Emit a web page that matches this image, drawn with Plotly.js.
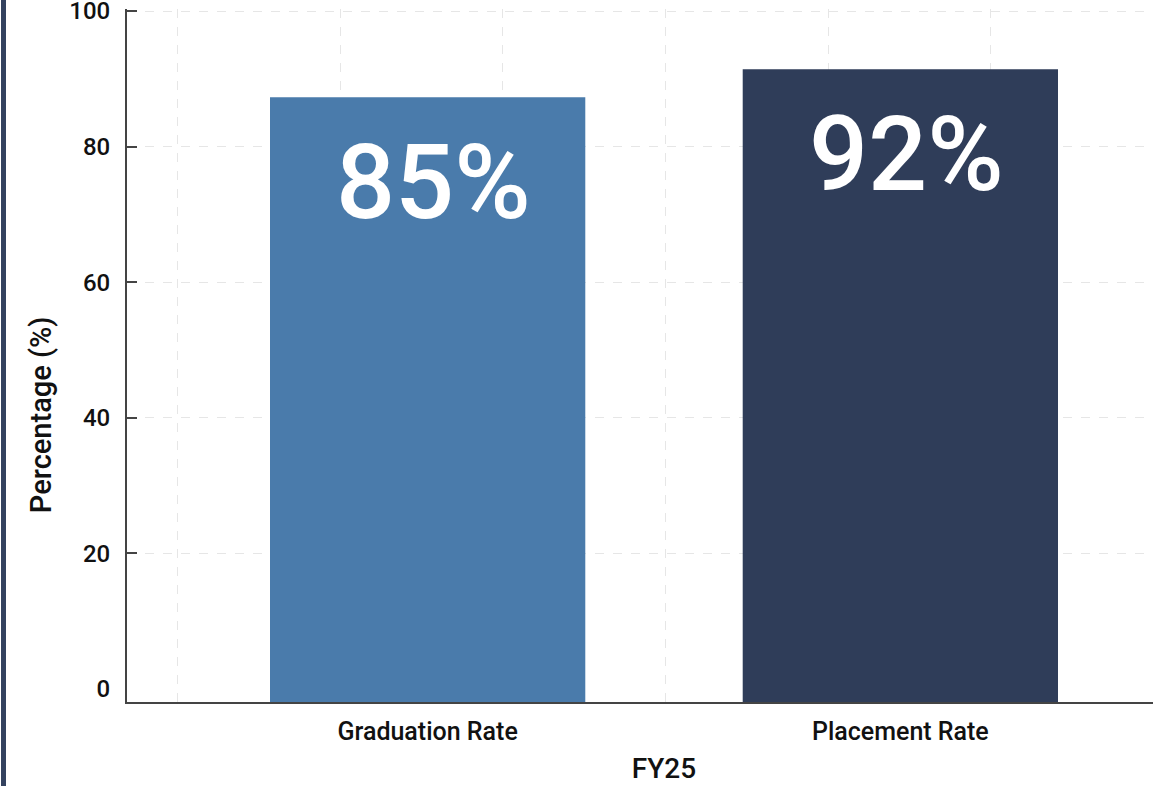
<!DOCTYPE html>
<html>
<head>
<meta charset="utf-8">
<script src="https://cdn.plot.ly/plotly-3.0.1.min.js"></script>
<style>
  html, body { margin: 0; padding: 0; background: #ffffff; overflow: hidden; width: 1153px; height: 786px; }
  #chart { position: absolute; left: 0; top: 0; }
  #edge { position: absolute; left: 1px; top: 0; width: 5px; height: 786px; background: #34425f; z-index: 10; }
</style>
</head>
<body>
<div id="chart"></div>
<div id="edge"></div>
<script>
// ---- data ----
const categories = ["Graduation Rate", "Placement Rate"];
const barValues = [87.3, 91.4];          // bar heights as drawn
const barLabels = ["85%", "92%"];        // labels printed inside the bars
const barColors = ["#4a7bab", "#2f3d59"];
const yTicks = [0, 20, 40, 60, 80, 100];
const yGridTicks = [20, 40, 60, 80, 100];
const xTitle = "FY25";
const yTitle = "Percentage (%)";

const Y_MIN = -1.92, Y_MAX = 100.3;
const FONT = "Roboto, 'Noto Sans', Arial, sans-serif";

const traces = [
  {
    type: "bar",
    x: categories,
    y: barValues.map(v => v - Y_MIN),
    base: Y_MIN,
    width: 0.667,
    marker: { color: barColors, line: { width: 0 } },
    hoverinfo: "x+y",
    showlegend: false
  },
  {
    type: "scatter", mode: "markers",
    x: [], y: [], xaxis: "x2", yaxis: "y2",
    showlegend: false, hoverinfo: "skip"
  }
];

const annotations = categories.map((c, i) => ({
  x: c, y: barValues[i], xref: "x", yref: "y",
  text: barLabels[i], showarrow: false,
  yanchor: "top", xanchor: "center", yshift: -23, xshift: 6,
  font: { family: FONT, size: 104, color: "#ffffff", weight: 500 }
}));
annotations.push({
  x: -0.0801, y: 0.4153, xref: "paper", yref: "paper",
  text: yTitle, showarrow: false, textangle: -90,
  xanchor: "center", yanchor: "middle",
  font: { family: FONT, size: 29, color: "#111111", weight: 500 }
});

const layout = {
  width: 1201, height: 786,
  margin: { l: 127, r: 0, t: 9, b: 84 },
  paper_bgcolor: "#ffffff", plot_bgcolor: "#ffffff",
  font: { family: FONT, color: "#111111" },
  xaxis: {
    type: "category",
    range: [-0.636, 1.636],
    showgrid: false, zeroline: false,
    showline: true, linecolor: "#444444", linewidth: 2,
    ticks: "", ticklabelstandoff: 6,
    tickfont: { family: FONT, size: 25, color: "#111111", weight: 500 },
    title: { text: xTitle, standoff: 13, font: { family: FONT, size: 28, color: "#111111", weight: 500 } },
    automargin: false
  },
  yaxis: {
    range: [Y_MIN, Y_MAX],
    tickmode: "array", tickvals: yTicks,
    showgrid: false, zeroline: false,
    showline: true, linecolor: "#444444", linewidth: 2,
    ticks: "", ticklabelstandoff: 10, ticklabeloverflow: "allow",
    tickfont: { family: FONT, size: 24, color: "#111111", weight: 500 },
    automargin: false
  },
  xaxis2: {
    overlaying: "x", range: [-0.3138, 6.2954],
    tickmode: "linear", tick0: 0, dtick: 1,
    showgrid: true, gridcolor: "#e6e6e6", griddash: "dash", gridwidth: 1,
    showticklabels: false, ticks: "", zeroline: false, showline: false
  },
  yaxis2: {
    overlaying: "y", range: [Y_MIN, Y_MAX],
    tickmode: "array", tickvals: yGridTicks,
    showgrid: true, gridcolor: "#e6e6e6", griddash: "dash", gridwidth: 1,
    showticklabels: false, ticks: "inside", ticklen: 10, tickwidth: 2, tickcolor: "#444444",
    zeroline: false, showline: false, side: "left"
  },
  annotations: annotations
};

Plotly.newPlot("chart", traces, layout, { displayModeBar: false, staticPlot: true });
</script>
</body>
</html>
